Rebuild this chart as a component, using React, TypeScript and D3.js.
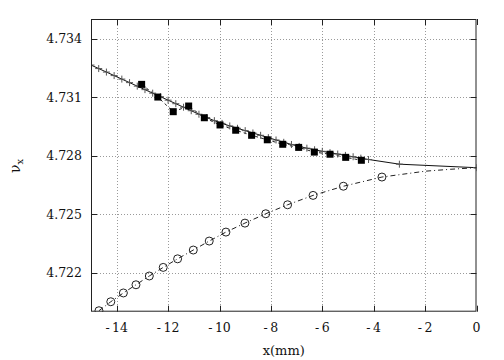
import * as d3 from 'd3'

// solid line with "+" markers
const plusX = [-15.0, -14.7, -14.4, -14.1, -13.8, -13.5, -13.2, -12.9, -12.6, -12.3, -12.0, -11.7, -11.4, -11.1, -10.8, -10.5, -10.2, -9.9, -9.6, -9.3, -9.0, -8.7, -8.4, -8.1, -7.8, -7.5, -7.2, -6.9, -6.6, -6.3, -6.0, -5.7, -5.4, -5.1, -4.8, -4.5, -4.2, -3.0, 0.0]
const plusY = [4.73264, 4.73246, 4.73228, 4.7321, 4.73192, 4.73174, 4.73156, 4.73138, 4.7312, 4.73102, 4.73084, 4.73066, 4.73048, 4.7303, 4.73012, 4.72995, 4.72979, 4.72965, 4.72952, 4.7294, 4.72928, 4.72916, 4.72904, 4.72892, 4.7288, 4.72868, 4.72857, 4.72847, 4.72838, 4.7283, 4.72822, 4.72815, 4.72808, 4.72801, 4.72794, 4.72787, 4.7278, 4.72756, 4.72738]

// filled squares, dashed line
const squareX = [-13.03, -12.40, -11.80, -11.20, -10.59, -9.98, -9.37, -8.75, -8.14, -7.54, -6.92, -6.31, -5.70, -5.09, -4.48]
const squareY = [4.73165, 4.731, 4.73025, 4.73054, 4.72994, 4.72957, 4.7293, 4.72904, 4.72881, 4.72858, 4.72842, 4.72818, 4.72807, 4.72791, 4.72776]

// open circles, dash-dot line (the line goes on to x = 0 without markers)
const circleX = [-14.69, -14.23, -13.74, -13.25, -12.73, -12.19, -11.63, -11.02, -10.40, -9.75, -9.01, -8.20, -7.35, -6.36, -5.18, -3.68]
const circleY = [4.72005, 4.72051, 4.72096, 4.72138, 4.72183, 4.72227, 4.72271, 4.72316, 4.72362, 4.72408, 4.72454, 4.72502, 4.72548, 4.72596, 4.72643, 4.7269]
const tailX = [-2.0, -1.0, 0.0]
const tailY = [4.7272, 4.7273, 4.72738]

const xTicks = [-14, -12, -10, -8, -6, -4, -2, 0]
const yTicks = [4.722, 4.725, 4.728, 4.731, 4.734]

const W = 504
const H = 360
const left = 91
const right = 476.5
const top = 19
const bottom = 311.7
const font = '"DejaVu Serif", serif'

const App = () => {
  const x = d3.scaleLinear().domain([-15, 0]).range([left, right])
  const y = d3.scaleLinear().domain([4.72, 4.735]).range([bottom, top])

  const line = d3.line<[number, number]>()
    .x(d => x(d[0]))
    .y(d => y(d[1]))

  const plusPts = plusX.map((v, i) => [v, plusY[i]] as [number, number])
  const squarePts = squareX.map((v, i) => [v, squareY[i]] as [number, number])
  const circlePts = circleX.map((v, i) => [v, circleY[i]] as [number, number])
  const circleLine = circlePts.concat(tailX.map((v, i) => [v, tailY[i]] as [number, number]))

  const fmtX = (d: number) => (d < 0 ? '-\u2009' + Math.abs(d) : String(d))

  return (
    <svg width={W} height={H} style={{position: 'absolute', left: 0, top: 0}}>
      <rect width={W} height={H} fill="white" />
      <defs>
        <clipPath id="plot">
          <rect x={left} y={top} width={right - left} height={bottom - top} />
        </clipPath>
      </defs>

      {/* grid */}
      <g stroke="#9a9a9a" strokeWidth={1} strokeDasharray="1,2">
        {xTicks.filter(d => d > -15 && d < 0).map(d => (
          <line key={d} x1={Math.round(x(d)) + 0.5} x2={Math.round(x(d)) + 0.5} y1={top} y2={bottom} />
        ))}
        {yTicks.map(d => (
          <line key={d} x1={left} x2={right} y1={Math.round(y(d)) + 0.5} y2={Math.round(y(d)) + 0.5} />
        ))}
      </g>

      {/* data */}
      <g clipPath="url(#plot)" fill="none">
        <path d={line(circleLine) || ''} stroke="#222" strokeWidth={1} strokeDasharray="5,3,1,3" />
        <path d={line(squarePts) || ''} stroke="#222" strokeWidth={1} strokeDasharray="3,3" />
        <path d={line(plusPts) || ''} stroke="#111" strokeWidth={1} />
        {plusPts.map((p, i) => (
          <path key={i} d={`M${x(p[0]) - 3.5},${y(p[1])}h7M${x(p[0])},${y(p[1]) - 3.5}v7`} stroke="#555" strokeWidth={1} />
        ))}
        {circlePts.map((p, i) => (
          <circle key={i} cx={x(p[0])} cy={y(p[1])} r={4} stroke="#222" strokeWidth={1} />
        ))}
        {squarePts.map((p, i) => (
          <rect key={i} x={x(p[0]) - 3.5} y={y(p[1]) - 3.5} width={7} height={7} fill="black" />
        ))}
      </g>

      {/* frame and inward ticks */}
      <rect x={left + 0.5} y={top + 0.5} width={right - left - 1} height={bottom - top - 1} fill="none" stroke="#222" strokeWidth={1} />
      <g stroke="#222" strokeWidth={1}>
        {xTicks.map(d => (
          <g key={d}>
            <line x1={Math.round(x(d)) + 0.5} x2={Math.round(x(d)) + 0.5} y1={bottom} y2={bottom - 6} />
            <line x1={Math.round(x(d)) + 0.5} x2={Math.round(x(d)) + 0.5} y1={top} y2={top + 6} />
          </g>
        ))}
        {yTicks.map(d => (
          <g key={d}>
            <line x1={left} x2={left + 6} y1={Math.round(y(d)) + 0.5} y2={Math.round(y(d)) + 0.5} />
            <line x1={right} x2={right - 6} y1={Math.round(y(d)) + 0.5} y2={Math.round(y(d)) + 0.5} />
          </g>
        ))}
      </g>

      {/* tick labels */}
      <g fontFamily={font} fontSize={12.5} fill="#111">
        {yTicks.map(d => (
          <text key={d} x={82} y={y(d)} dy="0.36em" textAnchor="end">{d.toFixed(3)}</text>
        ))}
        {xTicks.map(d => (
          <text key={d} x={x(d)} y={332} textAnchor="middle">{fmtX(d)}</text>
        ))}
      </g>

      {/* axis titles */}
      <text x={(left + right) / 2} y={355} textAnchor="middle" fontFamily={font} fontSize={13} fill="#111">x(mm)</text>
      <text transform="translate(20,166) rotate(-90)" textAnchor="middle" fontFamily={font} fontSize={14} fill="#111">
        ν<tspan dy={3} fontSize={10}>x</tspan>
      </text>
    </svg>
  )
}

export default App
